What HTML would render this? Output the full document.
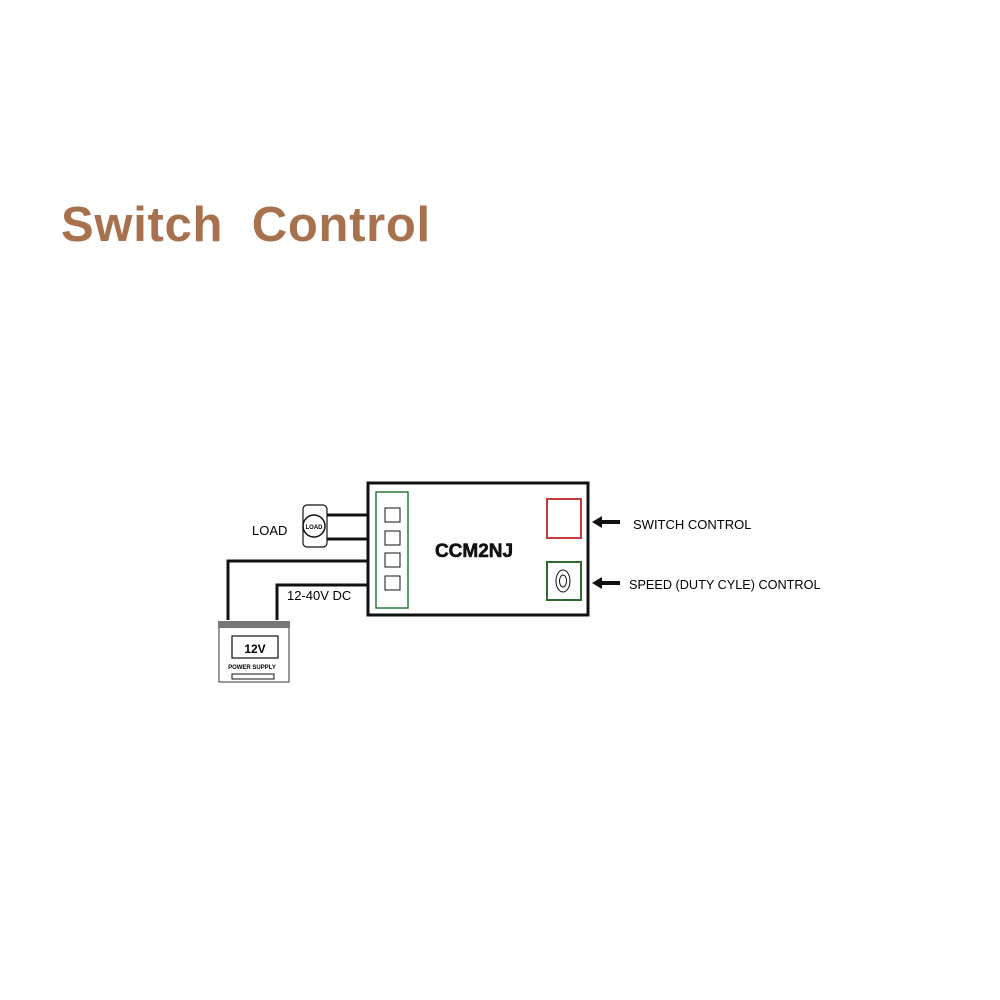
<!DOCTYPE html>
<html><head><style>
body{margin:0;width:1000px;height:1000px;background:#fff;position:relative;overflow:hidden;font-family:"Liberation Sans",sans-serif}
.t{position:absolute;left:61px;top:197px;font-size:49px;font-weight:bold;color:#a8714e;letter-spacing:0.7px;white-space:pre}
</style></head><body>
<div class="t">Switch  Control</div>
<svg width="1000" height="1000" style="position:absolute;left:0;top:0">
<g fill="none" stroke="#111">
<rect x="368" y="483" width="220" height="132" stroke-width="3"/>
<rect x="376" y="492" width="32" height="116" stroke="#2e7a3a" stroke-width="1.5"/>
<rect x="385" y="508" width="15" height="14" stroke-width="1"/>
<rect x="385" y="531" width="15" height="14" stroke-width="1"/>
<rect x="385" y="553" width="15" height="14" stroke-width="1"/>
<rect x="385" y="576" width="15" height="14" stroke-width="1"/>
<rect x="547" y="499" width="34" height="39" stroke="#c83a3a" stroke-width="2"/>
<rect x="547" y="562" width="34" height="38" stroke="#2e6a2e" stroke-width="2"/>
<ellipse cx="563" cy="581" rx="7" ry="11" stroke-width="1"/>
<ellipse cx="563" cy="581" rx="3.5" ry="6" stroke-width="1"/>
<path d="M327 515H368M327 539H368" stroke-width="3"/>
<path d="M228 620V561H368M277 620V585H368" stroke-width="3"/>
<rect x="303" y="505" width="24" height="42" rx="4" stroke-width="1.2"/>
<circle cx="314" cy="526" r="11" stroke-width="1.5"/>
<rect x="219" y="626" width="70" height="56" stroke-width="1.2" stroke="#555"/>
<rect x="218" y="621" width="72" height="7" fill="#777" stroke="none"/>
<rect x="232" y="636" width="46" height="22" stroke-width="1.2"/>
<rect x="232" y="674" width="42" height="5" stroke-width="1"/>
</g>
<text x="314" y="529" font-size="6" text-anchor="middle" font-family="Liberation Sans" font-weight="bold">LOAD</text>
<text x="255" y="653" font-size="12" text-anchor="middle" font-weight="bold" font-family="Liberation Sans">12V</text>
<text x="252" y="669" font-size="6" text-anchor="middle" font-weight="bold" font-family="Liberation Sans">POWER SUPPLY</text>
<text x="252" y="535" font-size="13" font-family="Liberation Sans">LOAD</text>
<text x="287" y="600" font-size="13" font-family="Liberation Sans">12-40V DC</text>
<text x="474" y="557" font-size="19" text-anchor="middle" font-weight="bold" font-family="Liberation Sans" fill="#111" stroke="#111" stroke-width="0.6">CCM2NJ</text>
<path d="M592 522L602 516V520H620V524H602V528Z" fill="#111"/>
<path d="M592 583L602 577V581H620V585H602V589Z" fill="#111"/>
<text x="633" y="529" font-size="13" font-family="Liberation Sans">SWITCH CONTROL</text>
<text x="629" y="589" font-size="12.7" font-family="Liberation Sans">SPEED (DUTY CYLE) CONTROL</text>
</svg>
</body></html>
